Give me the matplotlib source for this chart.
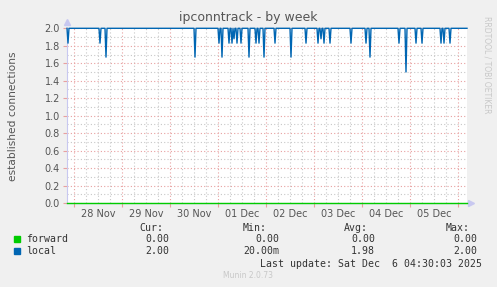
import matplotlib
matplotlib.use("Agg")
import matplotlib.pyplot as plt
import matplotlib.dates as mdates
import matplotlib.transforms as mtransforms
import numpy as np
import pandas as pd

# data (30 min samples, flat at 2.0 except the dips)
start = "2025-11-27 20:30"
end = "2025-12-06 04:30"
baseline_local = 2.0
baseline_forward = 0.0
dip_times = [
    "2025-11-27 21:00", "2025-11-28 13:00", "2025-11-28 16:00", "2025-11-30 12:30",
    "2025-12-01 00:30", "2025-12-01 02:00", "2025-12-01 05:30", "2025-12-01 07:00",
    "2025-12-01 08:00", "2025-12-01 09:30", "2025-12-01 11:30", "2025-12-01 15:30",
    "2025-12-01 19:00", "2025-12-01 20:30", "2025-12-01 23:00", "2025-12-02 04:30",
    "2025-12-02 12:30", "2025-12-02 20:00", "2025-12-03 02:00", "2025-12-03 03:30",
    "2025-12-03 05:00", "2025-12-03 08:00", "2025-12-03 18:30", "2025-12-04 02:00",
    "2025-12-04 04:00", "2025-12-04 18:30", "2025-12-04 22:00", "2025-12-05 03:00",
    "2025-12-05 06:00", "2025-12-05 15:30", "2025-12-05 17:00", "2025-12-05 20:00",
]
dip_values = [
    1.83, 1.83, 1.67, 1.67,
    1.83, 1.67, 1.83, 1.83,
    1.88, 1.83, 1.83, 1.67,
    1.83, 1.83, 1.67, 1.83,
    1.67, 1.83, 1.83, 1.88,
    1.83, 1.83, 1.83, 1.83,
    1.67, 1.83, 1.50, 1.83,
    1.83, 1.83, 1.83, 1.83,
]
day_labels = ["28 Nov", "29 Nov", "30 Nov", "01 Dec", "02 Dec", "03 Dec", "04 Dec", "05 Dec"]
label_days = ["2025-11-28", "2025-11-29", "2025-11-30", "2025-12-01",
              "2025-12-02", "2025-12-03", "2025-12-04", "2025-12-05"]

series_names = ["forward", "local"]
series_colors = ["#00CC00", "#0066B3"]
cur = ["0.00", "2.00"]
mins = ["0.00", "20.00m"]
avgs = ["0.00", "1.98"]
maxs = ["0.00", "2.00"]

idx = pd.date_range(start, end, freq="30min")
local = pd.Series(baseline_local, index=idx)
local[pd.to_datetime(dip_times)] = dip_values
forward = pd.Series(baseline_forward, index=idx)

W, H = 497, 287
fig = plt.figure(figsize=(W / 100, H / 100), dpi=100, facecolor="#F0F0F0")
ax = fig.add_axes([67 / W, 84 / H, 400 / W, 174.7 / H])
ax.set_facecolor("white")

ax.plot(forward.index, forward.values, color=series_colors[0], lw=1, zorder=4, clip_on=False)
ax.plot(local.index, local.values, color=series_colors[1], lw=1, zorder=5, clip_on=False)

ax.set_xlim(pd.Timestamp(start), pd.Timestamp(end))
ax.set_ylim(0, 2.0)

ax.xaxis.set_major_locator(mdates.HourLocator(byhour=[0]))
ax.xaxis.set_minor_locator(mdates.HourLocator(byhour=[6, 12, 18]))
ax.xaxis.set_major_formatter(plt.NullFormatter())
ax.set_yticks(np.arange(0, 2.01, 0.2))
ax.set_yticks(np.arange(0.1, 2.0, 0.2), minor=True)
ax.set_yticklabels([f"{v:.1f}" for v in np.arange(0, 2.01, 0.2)])

ax.grid(which="major", color="#E8A0A0", linestyle=(0, (1, 2)), linewidth=0.8)
ax.grid(which="minor", color="#C8C8C8", linestyle=(0, (1, 2)), linewidth=0.8)
ax.set_axisbelow(True)
ax.tick_params(which="major", length=3, width=0.8, color="#E8A0A0", labelsize=7,
               labelcolor="#555555", pad=2)
ax.tick_params(which="minor", length=0)
for s in ["top", "right"]:
    ax.spines[s].set_visible(False)
ax.spines["left"].set_color("#C8C8F0")
ax.spines["bottom"].set_color("#C8C8F0")

# day labels centred at noon
trans = mtransforms.blended_transform_factory(ax.transData, ax.transAxes)
for d, lab in zip(label_days, day_labels):
    ax.text(mdates.date2num(pd.Timestamp(d) + pd.Timedelta(hours=12)), -0.035, lab,
            transform=trans, ha="center", va="top", fontsize=7, color="#555555")

# axis arrows, just beyond the plot edges
ax.plot([0], [1.035], marker="^", color="#C8C8F0", markersize=5, transform=ax.transAxes,
        clip_on=False)
ax.plot([1.01], [0], marker=">", color="#C8C8F0", markersize=5, transform=ax.transAxes,
        clip_on=False)

fig.text(248 / W, 1 - 18 / H, "ipconntrack - by week", ha="center", va="center",
         fontsize=9, color="#555555")
fig.text(13 / W, 1 - 116 / H, "established connections", rotation=90, ha="center",
         va="center", fontsize=7.7, color="#555555")
fig.text(487 / W, 1 - 65 / H, "RRDTOOL / TOBI OETIKER", rotation=270, ha="center",
         va="center", fontsize=5.5, color="#C8C8C8")

mono = dict(family="DejaVu Sans Mono", fontsize=7.1, color="#333333", va="center")
hdr_y = 1 - 228 / H
for x, t in [(163, "Cur:"), (267, "Min:"), (368, "Avg:"), (470, "Max:")]:
    fig.text(x / W, hdr_y, t, ha="right", **mono)
rows_y = [239, 251]
for i, name in enumerate(series_names):
    y = 1 - rows_y[i] / H
    fig.patches.append(plt.Rectangle((14 / W, y - 3 / H), 6 / W, 6 / H,
                                     transform=fig.transFigure, color=series_colors[i]))
    fig.text(26 / W, y, name, ha="left", **mono)
    fig.text(169 / W, y, cur[i], ha="right", **mono)
    fig.text(279 / W, y, mins[i], ha="right", **mono)
    fig.text(375 / W, y, avgs[i], ha="right", **mono)
    fig.text(477 / W, y, maxs[i], ha="right", **mono)
fig.text(482 / W, 1 - 264 / H, "Last update: Sat Dec  6 04:30:03 2025", ha="right", **mono)
fig.text(248 / W, 1 - 276 / H, "Munin 2.0.73", ha="center", va="center",
         fontsize=5.5, color="#C8C8C8")

fig.savefig("out.png", dpi=100, facecolor=fig.get_facecolor())
